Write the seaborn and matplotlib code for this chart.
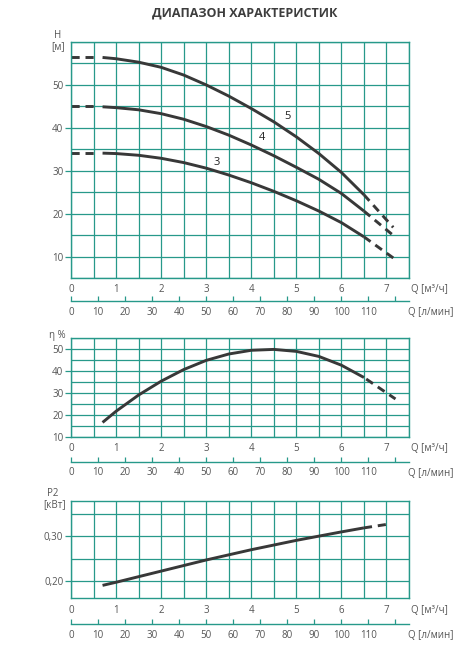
import matplotlib
matplotlib.use("Agg")
import numpy as np
import pandas as pd
import matplotlib.pyplot as plt
import seaborn as sns

# ---------------- data ----------------
q_solid = [0.7, 1.0, 1.5, 2.0, 2.5, 3.0, 3.5, 4.0, 4.5, 5.0, 5.5, 6.0, 6.5]
h5_solid = [56.4, 56.1, 55.3, 54.1, 52.3, 50.0, 47.4, 44.5, 41.4, 37.9, 34.0, 29.6, 24.4]
h4_solid = [44.9, 44.7, 44.2, 43.3, 42.0, 40.3, 38.3, 36.0, 33.5, 30.8, 28.0, 24.7, 20.6]
h3_solid = [34.1, 34.0, 33.6, 32.9, 31.9, 30.6, 29.0, 27.2, 25.2, 23.0, 20.6, 17.9, 14.6]
q_dash_start = [0.0, 0.55]
h5_dash_start = [56.6, 56.6]
h4_dash_start = [45.0, 45.0]
h3_dash_start = [34.1, 34.1]
q5_dash_end = [6.5, 7.15]
h5_dash_end = [24.4, 16.8]
q_dash_end = [6.5, 7.2]
h4_dash_end = [20.6, 14.5]
h3_dash_end = [14.6, 9.3]
curve_names = ["5", "4", "3"]
curve_label_q = [4.8, 4.24, 3.24]
curve_label_h = [42.6, 37.7, 31.9]

eta_solid = [16.5, 21.6, 29.0, 35.3, 40.6, 44.8, 47.7, 49.4, 49.8, 48.9, 46.6, 42.6, 37.0]
q_eta_dash = [6.55, 7.2]
eta_dash = [36.3, 27.2]

q_p2_solid = [0.7, 1.0, 2.0, 3.0, 4.0, 5.0, 6.0, 6.5]
p2_solid = [0.190, 0.197, 0.222, 0.247, 0.270, 0.291, 0.310, 0.319]
q_p2_dash = [6.5, 7.05]
p2_dash = [0.319, 0.3275]

q_ticks = [0, 1, 2, 3, 4, 5, 6, 7]
lmin_ticks = [0, 10, 20, 30, 40, 50, 60, 70, 80, 90, 100, 110, 120]
lmin_labels = ["0", "10", "20", "30", "40", "50", "60", "70", "80", "90", "100", "110", ""]
h_ticks = [10, 20, 30, 40, 50]
eta_ticks = [10, 20, 30, 40, 50]
p2_ticks = [0.20, 0.30]
p2_tick_labels = ["0,20", "0,30"]

title = "ДИАПАЗОН ХАРАКТЕРИСТИК"

# ---------------- style ----------------
sns.set_style("white")
plt.rcParams["font.family"] = ["Open Sans", "DejaVu Sans"]
TEAL = "#27998a"
LINE = "#383838"
TXT = "#555555"
LW = 2.1
DASH = (0, (2.8, 2.0))

fig = plt.figure(figsize=(4.71, 6.66), dpi=100)
W, H = 471.0, 666.0


def add_ax(x0, x1, ytop, ybot):
    return fig.add_axes([x0 / W, 1 - ybot / H, (x1 - x0) / W, (ybot - ytop) / H])


ax1 = add_ax(71, 409, 42, 278)
ax2 = add_ax(71, 409, 338, 436.7)
ax3 = add_ax(71, 409, 500.7, 598.3)


def style(ax, ylim, yticks, yminor, ylabels, sec_offset_px):
    ax.set_xlim(0, 7.5)
    ax.set_ylim(*ylim)
    ax.set_xticks(q_ticks)
    ax.set_xticks(np.arange(0, 7.51, 0.5), minor=True)
    ax.set_yticks(yticks)
    ax.set_yticklabels(ylabels)
    ax.set_yticks(yminor, minor=True)
    ax.grid(which="both", color=TEAL, lw=0.9)
    ax.set_axisbelow(True)
    for s in ax.spines.values():
        s.set_color(TEAL)
        s.set_linewidth(1.0)
        s.set_visible(True)
    ax.tick_params(axis="x", which="both", length=0, labelsize=7, labelcolor=TXT, pad=4.5)
    ax.tick_params(axis="y", which="major", length=4, width=0.9, color=TEAL,
                   labelsize=7, labelcolor=TXT, pad=1.5, left=True)
    ax.tick_params(axis="y", which="minor", length=0)
    ax.set_xlabel("")
    ax.set_ylabel("")
    bbox_h = ax.get_position().height * H
    sec = ax.secondary_xaxis(-sec_offset_px / bbox_h,
                             functions=(lambda q: q * 1000.0 / 60.0,
                                        lambda l: l * 60.0 / 1000.0))
    sec.set_xticks(lmin_ticks)
    sec.set_xticklabels(lmin_labels)
    sec.tick_params(direction="in", length=3.5, width=0.9, color=TEAL,
                    labelsize=7, labelcolor=TXT, pad=4)
    sec.spines["bottom"].set_color(TEAL)
    sec.spines["bottom"].set_linewidth(1.0)
    ax.annotate("Q [м³/ч]", xy=(1, 0), xycoords="axes fraction",
                xytext=(2, -12), textcoords="offset pixels",
                ha="left", va="center", fontsize=7, color=TXT)
    ax.annotate("Q [л/мин]", xy=(1, 0), xycoords="axes fraction",
                xytext=(-1, -sec_offset_px - 11.5), textcoords="offset pixels",
                ha="left", va="center", fontsize=7, color=TXT)


def draw(ax, q, v, dashed=False):
    sns.lineplot(x=q, y=v, ax=ax, color=LINE, lw=LW, sort=False,
                 linestyle=DASH if dashed else "-", solid_capstyle="butt",
                 solid_joinstyle="round", dash_capstyle="butt")


# top panel
for hs, hds, hde, qde in [(h5_solid, h5_dash_start, h5_dash_end, q5_dash_end),
                          (h4_solid, h4_dash_start, h4_dash_end, q_dash_end),
                          (h3_solid, h3_dash_start, h3_dash_end, q_dash_end)]:
    draw(ax1, q_solid, hs)
    draw(ax1, q_dash_start, hds, True)
    draw(ax1, qde, hde, True)
for n, xq, yh in zip(curve_names, curve_label_q, curve_label_h):
    ax1.text(xq, yh, n, fontsize=8, color="#222222", ha="center", va="center")
style(ax1, (5, 60), h_ticks, np.arange(5, 60.1, 5), [str(t) for t in h_ticks], 23)

# middle panel
draw(ax2, q_solid, eta_solid)
draw(ax2, q_eta_dash, eta_dash, True)
style(ax2, (10, 55), eta_ticks, np.arange(10, 55.1, 5), [str(t) for t in eta_ticks], 25)

# bottom panel
draw(ax3, q_p2_solid, p2_solid)
draw(ax3, q_p2_dash, p2_dash, True)
style(ax3, (0.161, 0.38), p2_ticks, [0.20, 0.25, 0.30, 0.35], p2_tick_labels, 25.7)

# axis titles
fig.text(58 / W, 1 - 36 / H, "H", ha="center", va="center", fontsize=7, color=TXT)
fig.text(58 / W, 1 - 47 / H, "[м]", ha="center", va="center", fontsize=7, color=TXT)
fig.text(57 / W, 1 - 335 / H, "η %", ha="center", va="center", fontsize=7, color=TXT)
fig.text(52.5 / W, 1 - 494 / H, "P2", ha="center", va="center", fontsize=7, color=TXT)
fig.text(54.5 / W, 1 - 505 / H, "[кВт]", ha="center", va="center", fontsize=7, color=TXT)

fig.text(245 / W, 1 - 13 / H, title, ha="center", va="center", fontsize=9,
         fontweight="bold", color="#3d3d3d")

fig.savefig("out.png", dpi=100)
